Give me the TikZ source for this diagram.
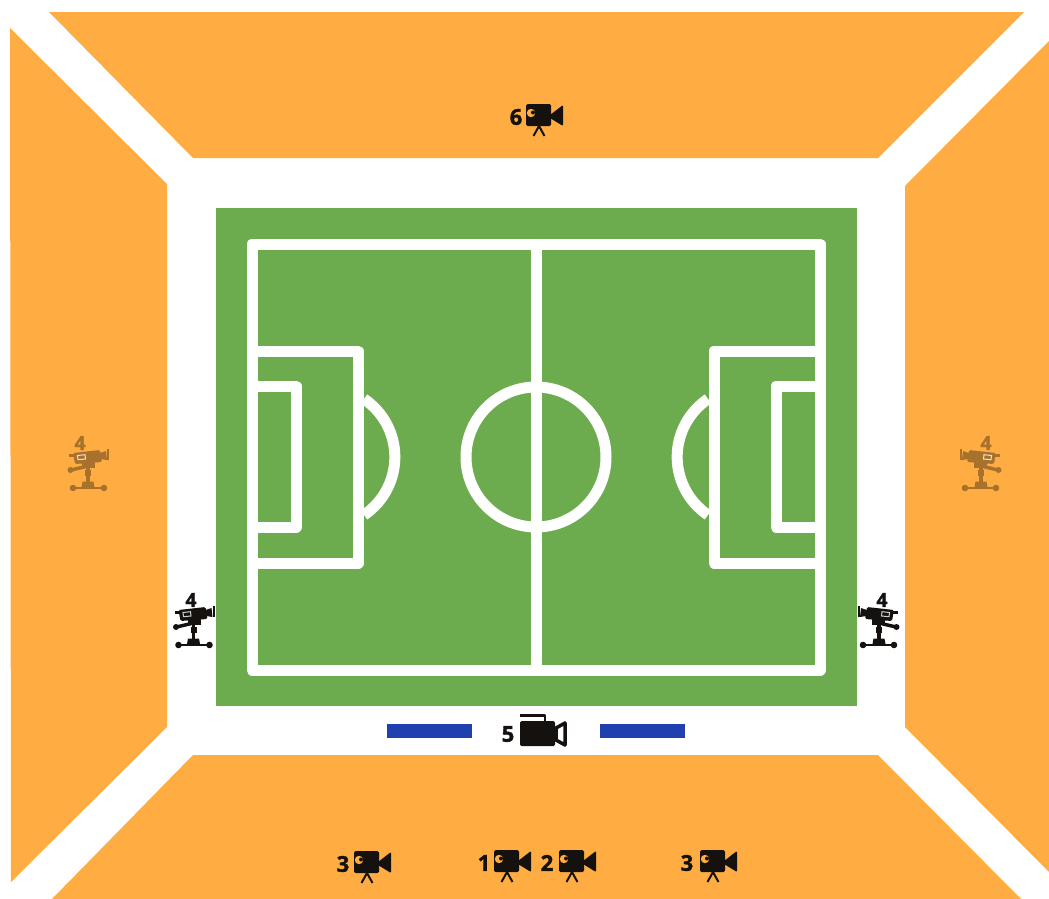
\documentclass[tikz,border=0pt]{standalone}
\usepackage{fontspec}
\setmainfont{Open Sans}[BoldFeatures={FakeBold=1.6}]
\definecolor{stand}{HTML}{FFAD42}
\definecolor{pitch}{HTML}{6DAC4E}
\definecolor{barblue}{HTML}{2140B0}
\definecolor{camblack}{HTML}{15110F}
\definecolor{camdim}{HTML}{A8712C}
\tikzset{
  x=0.02cm,y=-0.02cm,
  standarea/.style={fill=stand,draw=none},
  pline/.style={draw=white,line width=0.22cm,line join=round},
  digit/.style={font=\fontsize{12.5}{12.5}\selectfont\bfseries,text=camblack,inner sep=0pt},
  smalldigit/.style={font=\fontsize{11}{11}\selectfont\bfseries,inner sep=0pt},
  tripodcam/.pic={
    \fill[camblack,rounded corners=0.03cm] (-13,-11) rectangle (12,11);
    \fill[camblack,rounded corners=0.02cm] (11,0) -- (24,-10) -- (24,11) -- (11,3) -- cycle;
    \fill[stand] (-8,-2) circle (4.2);
    \fill[camblack] (-6,-2.5) circle (2);
    \draw[camblack,line width=0.04cm] (0,11) -- (-5.5,21) (0,11) -- (5.5,21);
  },
  dollycam/.pic={
    \fill[#1,rounded corners=0.03cm] (-15,-20) -- (12,-23) -- (14,-11) -- (-13,-9) -- cycle;
    \draw[#1!20!white,line width=0.02cm] (-10.5,-17.5) -- (-3,-18.3) -- (-2.5,-14) -- (-10,-13.3) -- cycle;
    \fill[#1] (12,-20) -- (18,-22) -- (19,-13) -- (13,-14) -- cycle;
    \fill[#1] (19,-24) rectangle (21,-13);
    \fill[#1] (-19,-19) rectangle (-14,-16);
    \draw[#1,line width=0.07cm,line cap=round] (-17,-3) -- (0,-7);
    \fill[#1] (-17.5,-3) circle (3);
    \fill[#1] (-6,-11) rectangle (7,-5);
    \draw[#1,line width=0.07cm] (0,-7) -- (0,9);
    \fill[#1] (-3,-3) rectangle (3,3);
    \fill[#1] (-5.5,8.5) -- (5.5,8.5) -- (6.5,14) -- (-6.5,14) -- cycle;
    \draw[#1,line width=0.045cm] (-15,15) -- (16,15);
    \fill[#1] (-15,15) circle (3.3);
    \fill[#1] (16,15) circle (3.3);
  }
}
\begin{document}
\begin{tikzpicture}
\useasboundingbox (0,0) rectangle (1049,899);
% stands
\fill[standarea] (49,12) -- (1024,12) -- (878,158) -- (193,158) -- cycle;
\fill[standarea] (10,28) -- (167,184) -- (167,727) -- (11,882) -- cycle;
\fill[standarea] (1049,41) -- (905,186) -- (905,727) -- (1049,872) -- cycle;
\fill[standarea] (193,755) -- (878,755) -- (1021,899) -- (52,899) -- cycle;
% pitch
\fill[pitch] (216,208) rectangle (857,706);
\draw[pline] (252,244) rectangle (820,670);
\draw[pline] (536,244) -- (536,670);
\draw[pline] (536,457) circle (70);
\draw[pline] (252,351) -- (358,351) -- (358,563) -- (252,563);
\draw[pline] (252,386) -- (296,386) -- (296,527) -- (252,527);
\draw[pline] (820,351) -- (714,351) -- (714,563) -- (820,563);
\draw[pline] (820,386) -- (776,386) -- (776,527) -- (820,527);
\draw[pline] (364,515) arc[start angle=-56,end angle=56,radius=1.4cm];
\draw[pline] (708,515) arc[start angle=236,end angle=124,radius=1.4cm];
% benches
\fill[barblue] (387,724) rectangle (472,738);
\fill[barblue] (600,724) rectangle (685,738);
% tripod cameras
\pic at (539,115) {tripodcam};
\node[digit] (d6) at (516,117) {6};
\pic at (367,862) {tripodcam};
\node[digit] (d3a) at (343,864) {3};
\pic at (507,861) {tripodcam};
\node[digit] (d1) at (484,863) {1};
\pic at (572,861) {tripodcam};
\node[digit] (d2) at (547,863) {2};
\pic at (713,861) {tripodcam};
\node[digit] (d3b) at (687,863) {3};
% camera 5
\fill[camblack,rounded corners=0.03cm] (520,721) rectangle (555,746);
\draw[camblack,line width=0.05cm,line join=round] (520,715.5) -- (545,715.5) -- (545,723);
\draw[camblack,line width=0.07cm,fill=white,line join=round] (556,728) -- (565,723) -- (565,745) -- (556,740) -- cycle;
\node[digit] (d5) at (508,734) {5};
% dolly cameras
\pic at (193.5,630) {dollycam=camblack};
\node[smalldigit,text=camblack] (d4a) at (191,600) {4};
\pic[xscale=-1] at (879,630) {dollycam=camblack};
\node[smalldigit,text=camblack] (d4b) at (882,600) {4};
\pic at (88,473) {dollycam=camdim};
\node[smalldigit,text=camdim] (d4c) at (80,443) {4};
\pic[xscale=-1] at (981,473) {dollycam=camdim};
\node[smalldigit,text=camdim] (d4d) at (986,443) {4};
\end{tikzpicture}
\end{document}
